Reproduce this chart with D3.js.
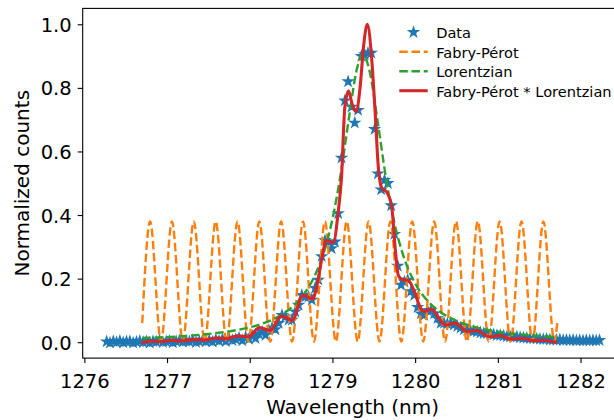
<!DOCTYPE html>
<html><head><meta charset="utf-8">
<script src="https://cdn.jsdelivr.net/npm/d3@7"></script>
<style>body{margin:0;background:#fff}svg{display:block}</style>
</head><body>
<svg id="chart" width="614" height="420"></svg>
<script>
// ---------- data ----------
const xTickVals = [1276, 1277, 1278, 1279, 1280, 1281, 1282];
const yTickVals = [0, 0.2, 0.4, 0.6, 0.8, 1.0];
const yTickLabels = ["0.0", "0.2", "0.4", "0.6", "0.8", "1.0"];
const seriesNames = ["Data", "Fabry-Pérot", "Lorentzian", "Fabry-Pérot * Lorentzian"];

const dataWl = [
  1276.27,1276.31,1276.35,1276.39,1276.43,1276.47,1276.51,1276.55,1276.59,1276.63,
  1276.67,1276.71,1276.75,1276.79,1276.83,1276.87,1276.91,1276.95,1276.99,1277.03,
  1277.07,1277.11,1277.15,1277.19,1277.23,1277.27,1277.31,1277.35,1277.39,1277.43,
  1277.47,1277.51,1277.55,1277.59,1277.63,1277.67,1277.71,1277.75,1277.79,1277.83,
  1277.87,1277.91,1277.95,1277.99,1278.03,1278.07,1278.11,1278.15,1278.19,1278.23,
  1278.27,1278.31,1278.35,1278.39,1278.43,1278.47,1278.51,1278.55,1278.59,1278.63,
  1278.67,1278.71,1278.75,1278.79,1278.83,1278.87,1278.91,1278.95,1278.99,1279.03,
  1279.07,1279.11,1279.15,1279.19,1279.23,1279.27,1279.31,1279.35,1279.39,1279.43,
  1279.47,1279.51,1279.55,1279.59,1279.63,1279.67,1279.71,1279.75,1279.79,1279.83,
  1279.87,1279.91,1279.95,1279.99,1280.03,1280.07,1280.11,1280.15,1280.19,1280.23,
  1280.27,1280.31,1280.35,1280.39,1280.43,1280.47,1280.51,1280.55,1280.59,1280.63,
  1280.67,1280.71,1280.75,1280.79,1280.83,1280.87,1280.91,1280.95,1280.99,1281.03,
  1281.07,1281.11,1281.15,1281.19,1281.23,1281.27,1281.31,1281.35,1281.39,1281.43,
  1281.47,1281.51,1281.55,1281.59,1281.63,1281.67,1281.71,1281.75,1281.79,1281.83,
  1281.87,1281.91,1281.95,1281.99,1282.03,1282.07,1282.11,1282.15,1282.19,1282.23
];
const dataVal = [
  0.002,-0.002,0.003,0.000,0.004,-0.001,0.002,0.003,-0.002,0.001,
  0.004,0.000,0.002,-0.002,0.003,0.001,0.005,0.000,0.002,0.004,
  -0.001,0.003,0.005,0.001,0.004,0.002,0.006,0.000,0.003,0.007,
  0.002,0.006,0.001,0.008,0.004,0.010,0.003,0.012,0.006,0.009,
  0.014,0.005,0.016,0.010,0.020,0.012,0.026,0.033,0.022,0.038,
  0.045,0.040,0.060,0.085,0.080,0.070,0.070,0.096,0.117,0.148,
  0.143,0.143,0.133,0.170,0.196,0.270,0.320,0.316,0.295,0.316,
  0.405,0.580,0.760,0.820,0.740,0.690,0.730,0.900,0.905,0.910,
  0.910,0.670,0.530,0.480,0.510,0.500,0.430,0.340,0.240,0.180,
  0.190,0.196,0.160,0.148,0.110,0.090,0.085,0.100,0.100,0.090,
  0.075,0.060,0.060,0.058,0.060,0.055,0.050,0.045,0.040,0.038,
  0.036,0.035,0.033,0.030,0.028,0.028,0.025,0.024,0.022,0.022,
  0.020,0.018,0.017,0.016,0.017,0.015,0.014,0.013,0.012,0.012,
  0.011,0.010,0.009,0.010,0.008,0.008,0.007,0.008,0.006,0.007,
  0.006,0.007,0.005,0.006,0.005,0.006,0.005,0.006,0.005,0.006
];

// Fabry-Pérot: start, alternating peaks / troughs, end
const fpPoints = [
  [1276.700,0.060],
  [1276.795,0.380],[1276.927,0.002],[1277.059,0.380],[1277.191,0.002],
  [1277.323,0.380],[1277.456,0.002],[1277.588,0.380],[1277.720,0.002],
  [1277.852,0.380],[1277.984,0.002],[1278.116,0.380],[1278.248,0.002],
  [1278.380,0.380],[1278.512,0.002],[1278.644,0.380],[1278.777,0.002],
  [1278.909,0.380],[1279.041,0.002],[1279.173,0.380],[1279.305,0.002],
  [1279.437,0.380],[1279.569,0.002],[1279.701,0.380],[1279.833,0.002],
  [1279.965,0.380],[1280.098,0.002],[1280.230,0.380],[1280.362,0.002],
  [1280.494,0.380],[1280.626,0.002],[1280.758,0.380],[1280.890,0.002],
  [1281.022,0.380],[1281.154,0.002],[1281.286,0.380],[1281.419,0.002],
  [1281.551,0.380],[1281.683,0.002],
  [1281.720,0.065]
];

const lorPoints = [
  [1276.70,0.013],[1277.00,0.016],[1277.30,0.021],[1277.60,0.029],[1277.90,0.041],
  [1278.10,0.054],[1278.30,0.074],[1278.50,0.108],[1278.65,0.149],[1278.80,0.217],
  [1278.90,0.286],[1279.00,0.387],[1279.10,0.529],[1279.20,0.706],[1279.30,0.864],
  [1279.37,0.905],[1279.45,0.852],[1279.55,0.688],[1279.65,0.512],[1279.75,0.375],
  [1279.85,0.278],[1280.00,0.185],[1280.15,0.130],[1280.30,0.096],[1280.50,0.067],
  [1280.75,0.046],[1281.00,0.033],[1281.30,0.024],[1281.72,0.016]
];

const prodPoints = [
  [1276.694,-0.002],[1276.795,0.004],[1276.927,0.002],[1277.059,0.006],[1277.191,0.004],
  [1277.323,0.009],[1277.456,0.007],[1277.588,0.013],[1277.720,0.011],[1277.852,0.020],
  [1277.984,0.017],[1278.116,0.046],[1278.248,0.037],[1278.380,0.082],[1278.512,0.069],
  [1278.644,0.148],[1278.760,0.136],[1278.810,0.175],[1278.870,0.260],[1278.925,0.320],
  [1279.010,0.313],[1279.070,0.410],[1279.110,0.520],[1279.150,0.740],[1279.195,0.790],
  [1279.237,0.750],[1279.285,0.725],[1279.334,0.800],[1279.376,0.930],[1279.422,1.000],
  [1279.475,0.890],[1279.515,0.730],[1279.555,0.550],[1279.596,0.485],[1279.657,0.472],
  [1279.717,0.426],[1279.757,0.300],[1279.797,0.210],[1279.854,0.196],[1279.914,0.195],
  [1279.999,0.154],[1280.059,0.110],[1280.110,0.097],[1280.201,0.104],[1280.301,0.070],
  [1280.370,0.054],[1280.483,0.060],[1280.626,0.034],[1280.745,0.037],[1280.900,0.017],
  [1281.027,0.021],[1281.160,0.010],[1281.300,0.012],[1281.430,0.005],[1281.550,0.006],
  [1281.712,-0.001]
];

// ---------- drawing ----------
const FONT = "DejaVu Sans";
const svg = d3.select("#chart");
const L = 82.7, R = 622.7, T = 8.4, B = 358.1;
const x = d3.scaleLinear().domain([1275.98, 1282.51]).range([L, R]);
const y = d3.scaleLinear().domain([-0.05, 1.05]).range([B, T]);

svg.append("defs").append("clipPath").attr("id", "clip")
  .append("rect").attr("x", L).attr("y", T).attr("width", R - L).attr("height", B - T);

const plot = svg.append("g").attr("clip-path", "url(#clip)");

const starSym = d3.symbol().type(d3.symbolStar).size(26);
plot.selectAll("path.star").data(d3.zip(dataWl, dataVal)).join("path")
  .attr("class", "star")
  .attr("transform", d => `translate(${x(d[0])},${y(d[1])})`)
  .attr("d", starSym)
  .attr("fill", "#1f77b4").attr("stroke", "#1f77b4")
  .attr("stroke-width", 1.4).attr("stroke-linejoin", "miter");

const line = d3.line().x(d => x(d[0])).y(d => y(d[1])).curve(d3.curveMonotoneX);
const dash = "8.5,3.7";
plot.append("path").datum(fpPoints).attr("d", line)
  .attr("fill", "none").attr("stroke", "#ff7f0e").attr("stroke-width", 2.4).attr("stroke-dasharray", dash);
plot.append("path").datum(lorPoints).attr("d", line)
  .attr("fill", "none").attr("stroke", "#2ca02c").attr("stroke-width", 2.4).attr("stroke-dasharray", dash);
plot.append("path").datum(prodPoints).attr("d", line)
  .attr("fill", "none").attr("stroke", "#d62728").attr("stroke-width", 3.1).attr("stroke-linejoin", "round");

// spines
const spine = svg.append("g").attr("stroke", "#000").attr("stroke-width", 1.1).attr("fill", "none");
spine.append("rect").attr("x", L).attr("y", T).attr("width", R - L).attr("height", B - T);

// x axis
const gx = svg.append("g").attr("transform", `translate(0,${B})`)
  .call(d3.axisBottom(x).tickValues(xTickVals).tickFormat(d3.format("d")).tickSize(5).tickSizeOuter(0));
gx.select(".domain").remove();
gx.attr("font-family", FONT).attr("font-size", 19.5);
gx.selectAll(".tick line").attr("stroke", "#000").attr("stroke-width", 1.1);
gx.selectAll(".tick text").attr("y", 30).attr("dy", null).attr("fill", "#000");

// y axis
const gy = svg.append("g").attr("transform", `translate(${L},0)`)
  .call(d3.axisLeft(y).tickValues(yTickVals).tickFormat((d, i) => yTickLabels[i]).tickSize(5).tickSizeOuter(0));
gy.select(".domain").remove();
gy.attr("font-family", FONT).attr("font-size", 19.5);
gy.selectAll(".tick line").attr("stroke", "#000").attr("stroke-width", 1.1);
gy.selectAll(".tick text").attr("x", -11).attr("dy", "0.36em").attr("fill", "#000");

// axis labels
svg.append("text").attr("x", (L + R) / 2).attr("y", 414.4).attr("text-anchor", "middle")
  .attr("font-family", FONT).attr("font-size", 20).text("Wavelength (nm)");
svg.append("text").attr("transform", `translate(28.5,${(T + B) / 2}) rotate(-90)`).attr("text-anchor", "middle")
  .attr("font-family", FONT).attr("font-size", 20).text("Normalized counts");

// legend
const leg = svg.append("g").attr("font-family", FONT).attr("font-size", 14.6);
const rowY = [32.3, 51.7, 71.2, 90.7];
const hx0 = 399.3, hx1 = 427.7, tx = 436.2;
leg.append("path").attr("transform", `translate(${(hx0 + hx1) / 2},${rowY[0]})`).attr("d", starSym)
  .attr("fill", "#1f77b4").attr("stroke", "#1f77b4").attr("stroke-width", 1.4);
const legLines = [
  {c: "#ff7f0e", w: 2.4, d: dash},
  {c: "#2ca02c", w: 2.4, d: dash},
  {c: "#d62728", w: 3.1, d: null}
];
legLines.forEach((s, i) => {
  leg.append("line").attr("x1", hx0).attr("x2", hx1).attr("y1", rowY[i + 1]).attr("y2", rowY[i + 1])
    .attr("stroke", s.c).attr("stroke-width", s.w).attr("stroke-dasharray", s.d);
});
seriesNames.forEach((n, i) => {
  leg.append("text").attr("x", tx).attr("y", rowY[i] + 5.8).attr("fill", "#000").text(n);
});
</script>
</body></html>
